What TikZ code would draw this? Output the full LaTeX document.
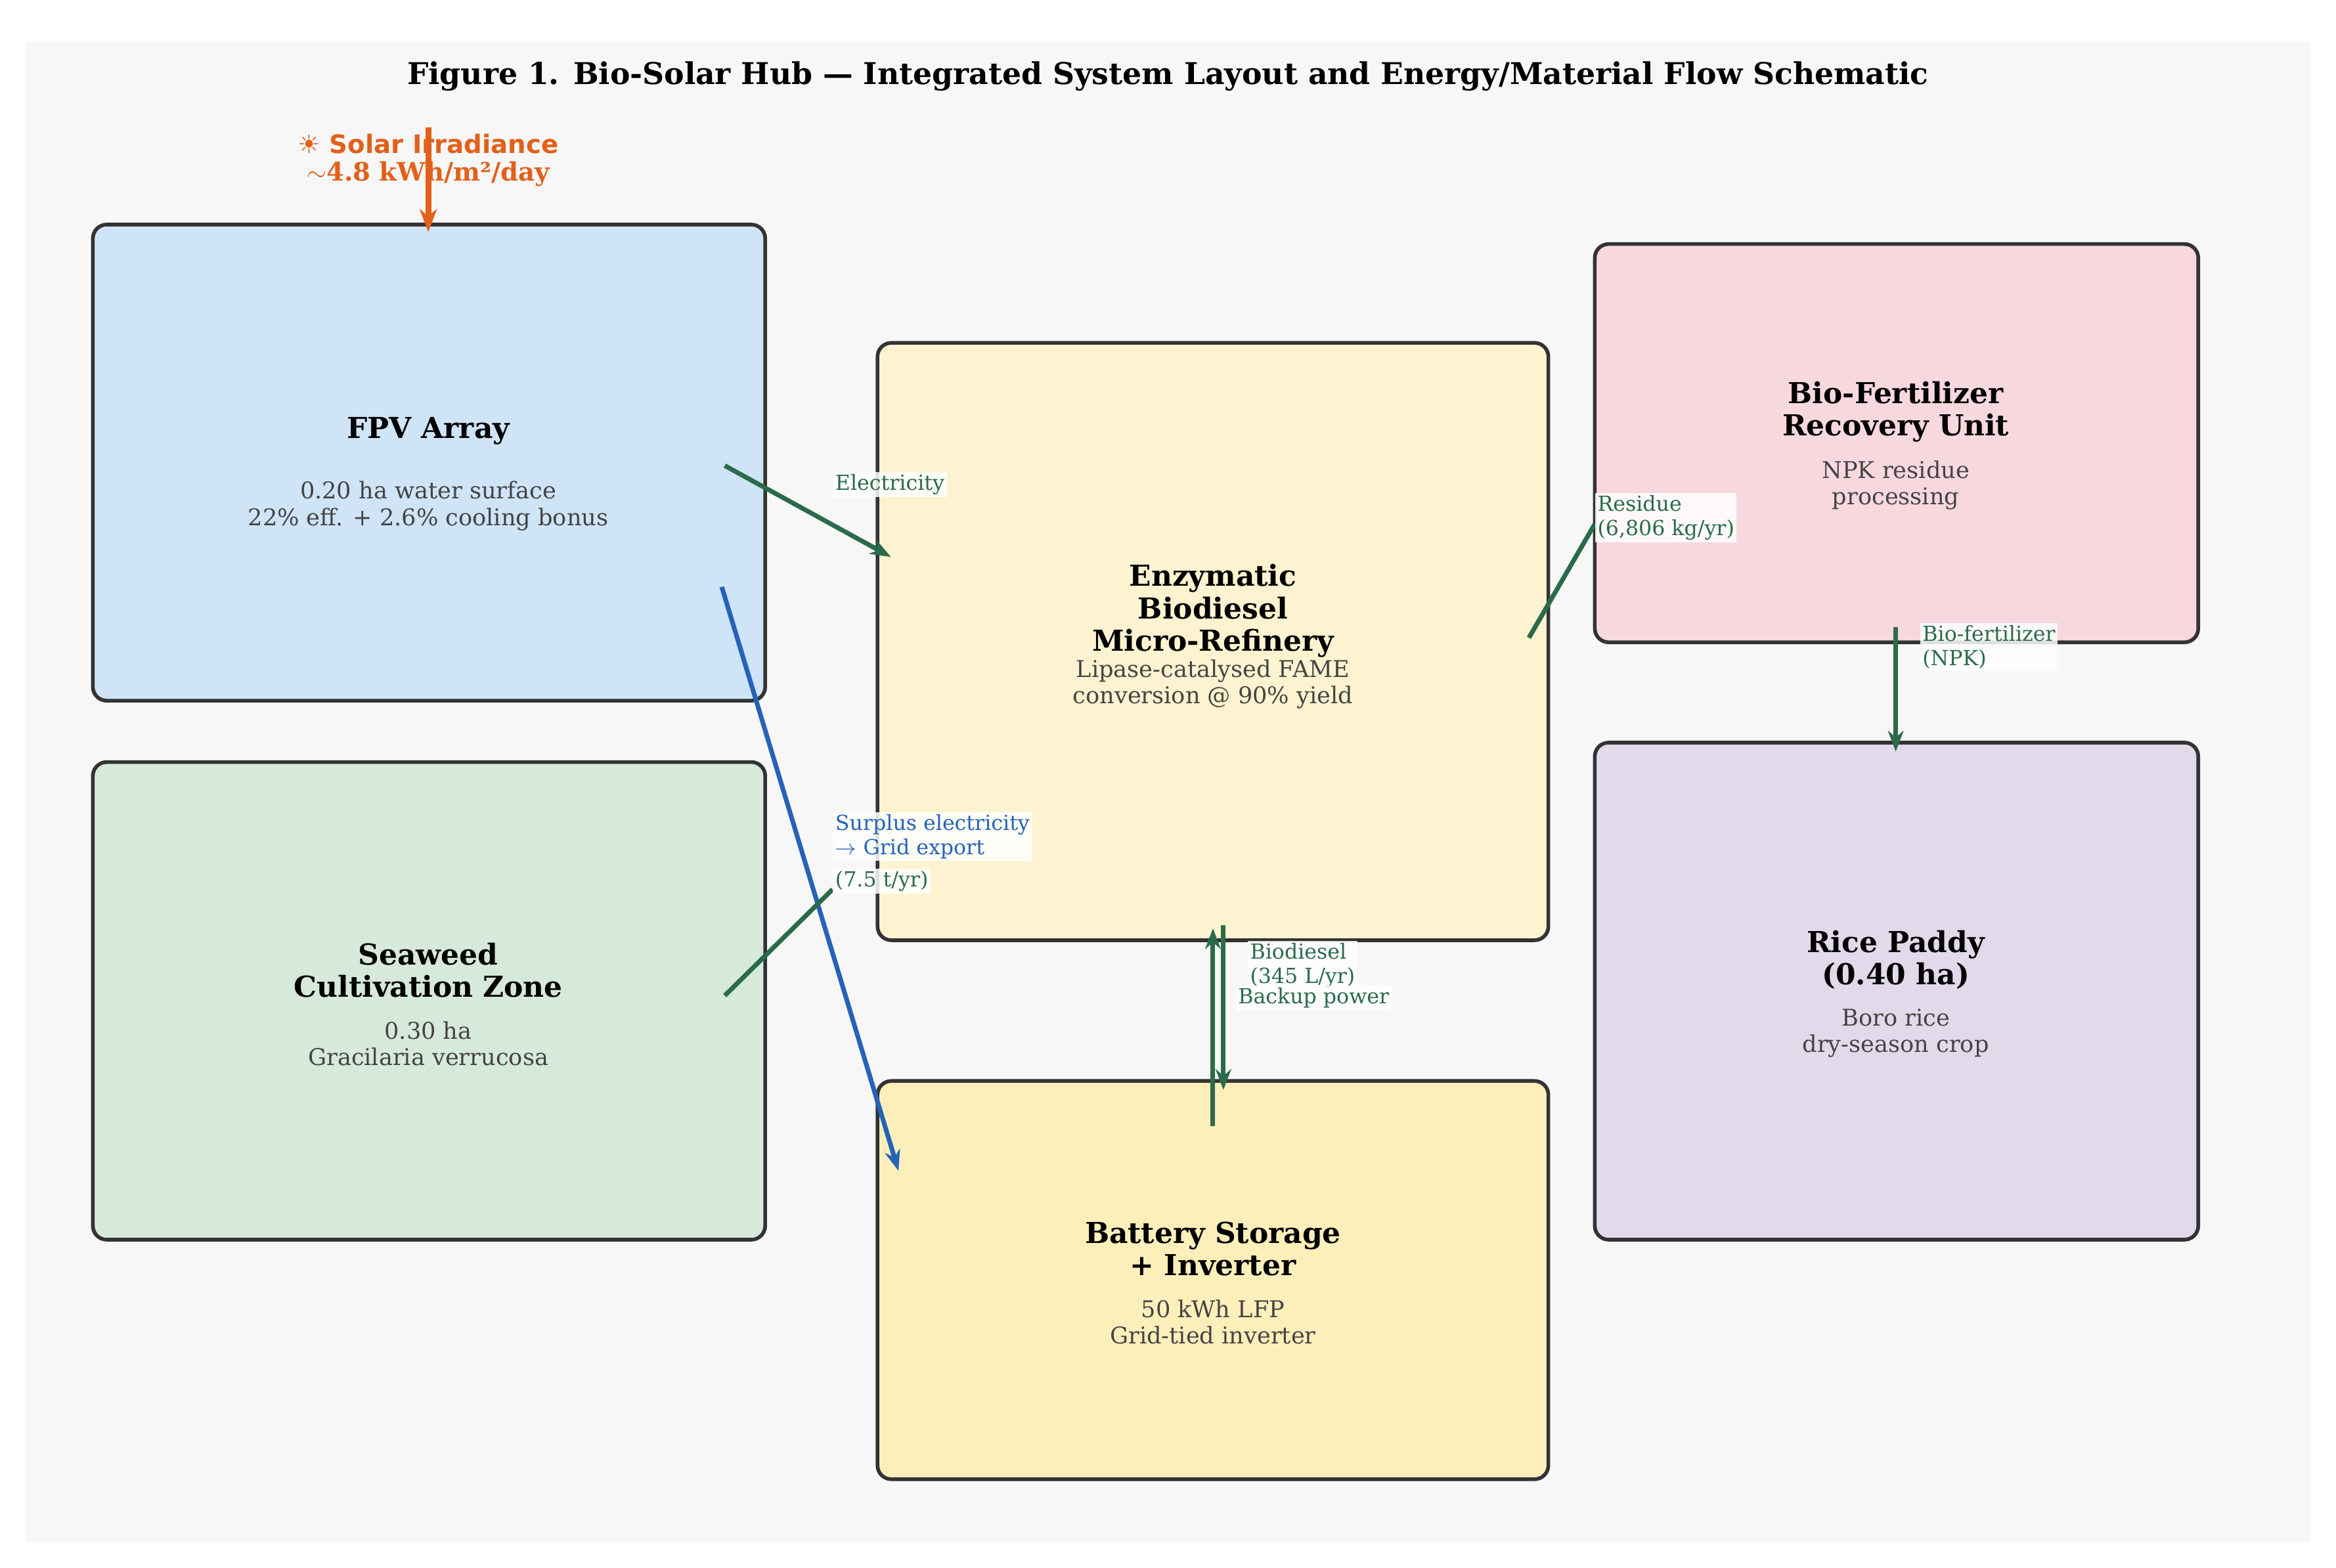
\documentclass[tikz,border=0pt]{standalone}
\usepackage{fontspec}
\setmainfont{DejaVu Serif}
\usetikzlibrary{arrows.meta}
\definecolor{flowgreen}{HTML}{2A6B4B}
\definecolor{flowblue}{HTML}{2563B8}
\definecolor{sunorange}{HTML}{E2601A}
\definecolor{subgray}{HTML}{444444}
\begin{document}
\begin{tikzpicture}[x=0.0228cm,y=-0.0228cm,
    box/.style={draw=black!80,line width=1.6pt,rounded corners=6pt},
    head/.style={font=\bfseries\fontsize{12.5}{14}\selectfont,align=center},
    sub/.style={text=subgray,font=\fontsize{10}{11.5}\selectfont,align=center},
    flow/.style={flowgreen,line width=2pt},
    lbl/.style={fill=white,fill opacity=.85,text opacity=1,inner sep=1pt,anchor=north west,
        align=left,font=\fontsize{9}{10.5}\selectfont,text=flowgreen}]
    \fill[white] (0,0) rectangle (1560,1047);
    \fill[black!3] (17,28) rectangle (1543,1030);
    \node (title) at (780,51) {\bfseries\fontsize{13}{15}\selectfont Figure 1. Bio-Solar Hub --- Integrated System Layout and Energy/Material Flow Schematic};
    % boxes
    \draw[box,fill={rgb,255:red,207;green,228;blue,247}] (62,150) rectangle (511,468);
    \draw[box,fill={rgb,255:red,214;green,233;blue,218}] (62,509) rectangle (511,828);
    \draw[box,fill={rgb,255:red,253;green,243;blue,208}] (586,229) rectangle (1034,628);
    \draw[box,fill={rgb,255:red,253;green,239;blue,186}] (586,722) rectangle (1034,988);
    \draw[box,fill={rgb,255:red,247;green,216;blue,222}] (1065,163) rectangle (1468,429);
    \draw[box,fill={rgb,255:red,226;green,217;blue,234}] (1065,496) rectangle (1468,828);
    % box texts
    \node[head] (fpv) at (286,288) {FPV Array};
    \node[sub] (fpvsub) at (286,338) {0.20 ha water surface\\22\% eff. + 2.6\% cooling bonus};
    \node[head] (weed) at (286,648) {Seaweed\\Cultivation Zone};
    \node[sub] (weedsub) at (286,697) {0.30 ha\\Gracilaria verrucosa};
    \node[head] (refinery) at (810,408) {Enzymatic\\Biodiesel\\Micro-Refinery};
    \node[sub] (refsub) at (810,457) {Lipase-catalysed FAME\\conversion @ 90\% yield};
    \node[head] (battery) at (810,834) {Battery Storage\\+ Inverter};
    \node[sub] (batsub) at (810,883) {50 kWh LFP\\Grid-tied inverter};
    \node[head] (fert) at (1266,275) {Bio-Fertilizer\\Recovery Unit};
    \node[sub] (fertsub) at (1266,324) {NPK residue\\processing};
    \node[head] (rice) at (1266,641) {Rice Paddy\\(0.40 ha)};
    \node[sub] (ricesub) at (1266,690) {Boro rice\\dry-season crop};
    % connector ends
    \coordinate (sunin) at (286,85);   \coordinate (sunout) at (286,155);
    \coordinate (e1) at (484,311);     \coordinate (e2) at (595,372);
    \coordinate (s1) at (482,392);     \coordinate (s2) at (600,782);
    \coordinate (w1) at (484,665);     \coordinate (w2) at (556,594);
    \coordinate (r1) at (1021,426);    \coordinate (r2) at (1065,350);
    \coordinate (f1) at (1266,419);    \coordinate (f2) at (1266,502);
    \coordinate (d1) at (817,618);     \coordinate (d2) at (817,728);
    \coordinate (b1) at (810,752);     \coordinate (b2) at (810,620);
    % flows
    \draw[flow,-{Stealth[length=9pt]}] (e1) -- (e2);
    \draw[flowblue,line width=2pt,-{Stealth[length=9pt]}] (s1) -- (s2);
    \draw[flow] (w1) -- (w2);
    \draw[flow] (r1) -- (r2);
    \draw[flow,-{Stealth[length=9pt]}] (f1) -- (f2);
    \draw[flow,-{Stealth[length=9pt]}] (d1) -- (d2);
    \draw[flow,-{Stealth[length=9pt]}] (b1) -- (b2);
    % labels
    \node[lbl] (elbl) at (556,315) {Electricity};
    \node[lbl,text=flowblue] (slbl) at (556,542) {Surplus electricity\\$\rightarrow$ Grid export};
    \node[lbl] (wlbl) at (556,580) {(7.5 t/yr)};
    \node[lbl] (rlbl) at (1065,329) {Residue\\(6,806 kg/yr)};
    \node[lbl] (flbl) at (1282,416) {Bio-fertilizer\\(NPK)};
    \node[lbl] (dlbl) at (833,628) {Biodiesel\\(345 L/yr)};
    \node[lbl] (blbl) at (825,658) {Backup power};
    \draw[sunorange,line width=2.6pt,-{Stealth[length=10pt]}] (sunin) -- (sunout);
    \node[text=sunorange,font=\bfseries\fontsize{11}{12}\selectfont,align=center] (sun) at (286,107)
        {\fontspec{DejaVu Sans}☀ Solar Irradiance\\$\sim$4.8 kWh/m²/day};
\end{tikzpicture}
\end{document}
